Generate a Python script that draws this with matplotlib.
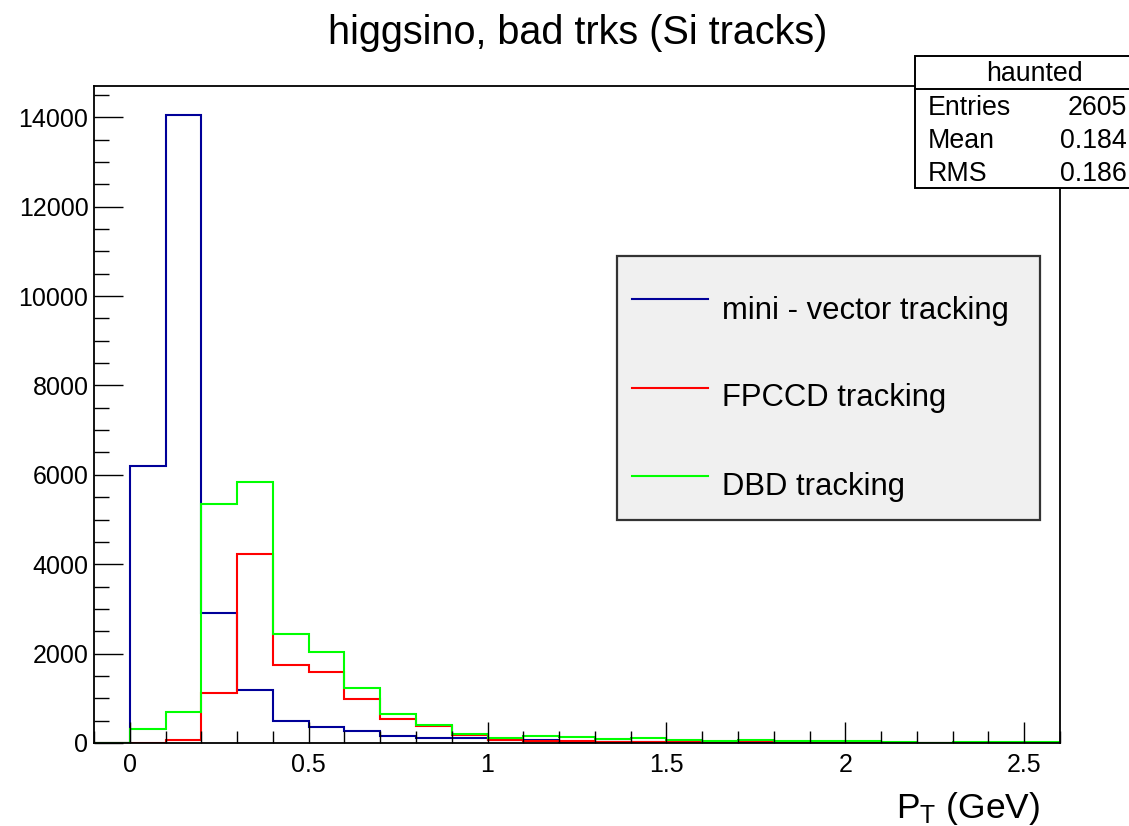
import numpy as np
import matplotlib
matplotlib.use("Agg")
import matplotlib.pyplot as plt
from matplotlib.patches import Rectangle
from matplotlib.lines import Line2D

plt.rcParams['font.family'] = ['Liberation Sans', 'DejaVu Sans']
plt.rcParams['mathtext.fontset'] = 'custom'
plt.rcParams['mathtext.rm'] = 'Liberation Sans'
plt.rcParams['mathtext.it'] = 'Liberation Sans:italic'

# ---- data: 27 bins of width 0.1 GeV from -0.1 to 2.6 ----
bin_edges = np.round(np.arange(-0.1, 2.6001, 0.1), 2)

mini_vector = [0, 6200, 14040, 2900, 1190, 500, 360, 275, 155, 120, 120, 60, 75,
               20, 15, 15, 15, 3, 3, 2, 2, 1, 1, 0, 0, 0, 0]
fpccd = [0, 0, 70, 1120, 4220, 1745, 1580, 990, 540, 372, 180, 70, 50,
         35, 30, 25, 20, 10, 55, 10, 10, 10, 0, 0, 0, 10, 0]
dbd = [0, 320, 695, 5350, 5850, 2440, 2025, 1230, 655, 410, 200, 112, 163,
       125, 90, 112, 74, 37, 74, 37, 37, 37, 30, 0, 30, 30, 30]

series_labels = ["mini - vector tracking", "FPCCD tracking", "DBD tracking"]
series_colors = ["#000099", "#ff0000", "#00ff00"]

stats_title = "haunted"
stats_names = ["Entries", "Mean", "RMS"]
stats_values = ["2605", "0.184", "0.186"]

x_ticks = [0, 0.5, 1, 1.5, 2, 2.5]
x_ticklabels = ["0", "0.5", "1", "1.5", "2", "2.5"]
y_ticks = [0, 2000, 4000, 6000, 8000, 10000, 12000, 14000]

W, H = 1129, 826
fig = plt.figure(figsize=(W / 100, H / 100), dpi=100)


def fx(px):
    return px / W


def fy(py):
    return 1 - py / H


ax = fig.add_axes([fx(94), fy(743), fx(1060) - fx(94), fy(86) - fy(743)])

for vals, col in zip([mini_vector, fpccd, dbd], series_colors):
    ax.stairs(vals, bin_edges, color=col, lw=1.5, baseline=None)

ax.set_xlim(-0.1, 2.6)
ax.set_ylim(0, 14700)

ax.set_xticks(x_ticks)
ax.set_xticklabels(x_ticklabels)
ax.set_xticks(np.arange(-0.1, 2.61, 0.1), minor=True)
ax.set_yticks(y_ticks)
ax.set_yticklabels([str(v) for v in y_ticks])
ax.set_yticks(np.arange(0, 14700, 500), minor=True)

ax.tick_params(axis='both', which='both', direction='in', top=False, right=False,
               colors='black', width=1.0, labelsize=18)
ax.tick_params(axis='x', which='major', length=15, pad=7)
ax.tick_params(axis='x', which='minor', length=8.5)
ax.tick_params(axis='y', which='major', length=21, pad=4)
ax.tick_params(axis='y', which='minor', length=11)
for sp in ax.spines.values():
    sp.set_linewidth(1.3)
    sp.set_color('black')

# title and axis title
fig.text(fx(578), fy(44), "higgsino, bad trks (Si tracks)", ha='center', va='baseline',
         fontsize=28.5)
fig.text(fx(1040), fy(818), r"P$_{\mathrm{T}}$ (GeV)", ha='right', va='baseline',
         fontsize=25.5)

# legend box
fig.patches.append(Rectangle((fx(617), fy(520)), fx(1040) - fx(617), fy(256) - fy(520),
                             transform=fig.transFigure, facecolor='#f0f0f0',
                             edgecolor='#333333', lw=1.6, zorder=5))
line_y = [299, 388, 476]
text_base = [319, 406, 495]
for lab, col, ly, tb in zip(series_labels, series_colors, line_y, text_base):
    fig.lines.append(Line2D([fx(632), fx(708)], [fy(ly), fy(ly)], color=col, lw=1.5,
                            transform=fig.transFigure, zorder=6))
    fig.text(fx(722), fy(tb), lab, ha='left', va='baseline', fontsize=22.3, zorder=6)

# statistics box
fig.patches.append(Rectangle((fx(915), fy(188)), fx(1140) - fx(915), fy(56) - fy(188),
                             transform=fig.transFigure, facecolor='white',
                             edgecolor='black', lw=1.4, zorder=5))
fig.lines.append(Line2D([fx(915), fx(1140)], [fy(89), fy(89)], color='black', lw=1.4,
                        transform=fig.transFigure, zorder=6))
fig.text(fx(1034), fy(81), stats_title, ha='center', va='baseline', fontsize=19.3, zorder=6)
for i, (nm, vv) in enumerate(zip(stats_names, stats_values)):
    base = 115 + i * 33
    fig.text(fx(928), fy(base), nm, ha='left', va='baseline', fontsize=19.3, zorder=6)
    fig.text(fx(1127), fy(base), vv, ha='right', va='baseline', fontsize=19.3, zorder=6)

fig.savefig("out.png", dpi=100)
